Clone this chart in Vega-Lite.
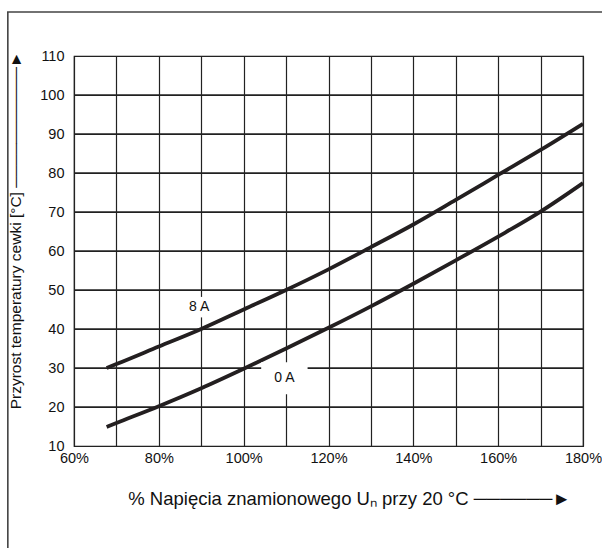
{
  "$schema": "https://vega.github.io/schema/vega-lite/v6.json",
  "width": 509,
  "height": 390,
  "autosize": {"type": "none"},
  "padding": {"left": 74, "top": 56, "right": 19, "bottom": 102},
  "background": "white",
  "config": {
    "font": "Liberation Sans",
    "view": {"stroke": "#111", "strokeWidth": 1.2},
    "axis": {
      "grid": true,
      "gridColor": "#222",
      "gridWidth": 1.2,
      "gridOpacity": 1,
      "ticks": false,
      "domain": false,
      "labelFont": "Liberation Sans",
      "labelFontSize": 14.5,
      "labelColor": "#111",
      "labelOverlap": false,
      "titleFont": "Liberation Sans",
      "titleFontWeight": "normal",
      "titleColor": "#111"
    }
  },
  "datasets": {
    "curves": [
      {"series": "8 A", "u": 67.7, "t": 30.0},
      {"series": "8 A", "u": 70, "t": 31.0},
      {"series": "8 A", "u": 80, "t": 35.5},
      {"series": "8 A", "u": 90, "t": 40.0},
      {"series": "8 A", "u": 100, "t": 45.0},
      {"series": "8 A", "u": 110, "t": 50.0},
      {"series": "8 A", "u": 120, "t": 55.3},
      {"series": "8 A", "u": 130, "t": 61.0},
      {"series": "8 A", "u": 140, "t": 66.8},
      {"series": "8 A", "u": 150, "t": 73.1},
      {"series": "8 A", "u": 160, "t": 79.5},
      {"series": "8 A", "u": 170, "t": 85.9},
      {"series": "8 A", "u": 180, "t": 92.6},
      {"series": "0 A", "u": 67.7, "t": 14.9},
      {"series": "0 A", "u": 70, "t": 15.9},
      {"series": "0 A", "u": 80, "t": 20.2},
      {"series": "0 A", "u": 90, "t": 24.8},
      {"series": "0 A", "u": 100, "t": 29.8},
      {"series": "0 A", "u": 110, "t": 35.0},
      {"series": "0 A", "u": 120, "t": 40.3},
      {"series": "0 A", "u": 130, "t": 45.8},
      {"series": "0 A", "u": 140, "t": 51.6},
      {"series": "0 A", "u": 150, "t": 57.6},
      {"series": "0 A", "u": 160, "t": 63.7},
      {"series": "0 A", "u": 170, "t": 70.1},
      {"series": "0 A", "u": 180, "t": 77.4}
    ],
    "labels": [
      {"label": "8 A", "u": 89.5, "t": 45.6},
      {"label": "0 A", "u": 109.6, "t": 27.4}
    ],
    "hgrid": [
      {"t": 20, "u": 60, "u2": 180},
      {"t": 30, "u": 60, "u2": 180},
      {"t": 40, "u": 60, "u2": 180},
      {"t": 50, "u": 60, "u2": 180},
      {"t": 60, "u": 60, "u2": 180},
      {"t": 70, "u": 60, "u2": 180},
      {"t": 80, "u": 60, "u2": 180},
      {"t": 90, "u": 60, "u2": 180},
      {"t": 100, "u": 60, "u2": 180}
    ],
    "frame": [
      {"u": 44.4, "u2": 220, "t": 121.3, "t2": -60}
    ]
  },
  "encoding": {
    "x": {
      "field": "u", "type": "quantitative",
      "scale": {"domain": [60, 180], "nice": false, "zero": false},
      "axis": {
        "values": [60, 70, 80, 90, 100, 110, 120, 130, 140, 150, 160, 170, 180],
        "labelExpr": "datum.value % 20 == 0 ? datum.value + '%' : ''",
        "labelPadding": 5,
        "labelFlush": false,
        "title": "% Napięcia znamionowego Uₙ przy 20 °C   ──────►",
        "titleFontSize": 18.5,
        "titleX": 275,
        "titleY": 52,
        "titleBaseline": "middle"
      }
    },
    "y": {
      "field": "t", "type": "quantitative",
      "scale": {"domain": [10, 110], "nice": false, "zero": false},
      "axis": {
        "values": [10, 20, 30, 40, 50, 60, 70, 80, 90, 100, 110],
        "labelPadding": 10,
        "title": "Przyrost temperatury cewki [°C]  ───────────►",
        "titleFontSize": 15.5,
        "titleX": -59,
        "titleY": 174,
        "titleBaseline": "middle",
        "titleAngle": -90
      }
    }
  },
  "layer": [
    {
      "data": {"name": "hgrid"},
      "mark": {"type": "rule", "color": "#222", "strokeWidth": 1.4},
      "encoding": {
        "x2": {"field": "u2"}
      }
    },
    {
      "data": {"name": "curves"},
      "mark": {"type": "line", "color": "#231f20", "strokeWidth": 3.8, "interpolate": "monotone", "strokeCap": "butt"},
      "encoding": {
        "detail": {"field": "series"}
      }
    },
    {
      "data": {"name": "labels"},
      "transform": [{"filter": "datum.label == '8 A'"}],
      "mark": {"type": "point", "shape": "M-1.45,-1L1.45,-1L1.45,1L-1.45,1Z", "filled": true, "fill": "white", "stroke": null, "opacity": 1, "size": 420}
    },
    {
      "data": {"name": "labels"},
      "transform": [{"filter": "datum.label == '0 A'"}],
      "mark": {"type": "point", "shape": "M-1.45,-1L1.45,-1L1.45,1L-1.45,1Z", "filled": true, "fill": "white", "stroke": null, "opacity": 1, "size": 1024}
    },
    {
      "data": {"name": "labels"},
      "mark": {"type": "text", "font": "Liberation Sans", "fontSize": 14, "color": "#111", "baseline": "middle", "align": "center"},
      "encoding": {
        "text": {"field": "label"}
      }
    },
    {
      "data": {"name": "frame"},
      "mark": {"type": "rect", "fill": null, "stroke": "#444", "strokeWidth": 1.6, "clip": false},
      "encoding": {
        "x2": {"field": "u2"},
        "y2": {"field": "t2"}
      }
    }
  ]
}
